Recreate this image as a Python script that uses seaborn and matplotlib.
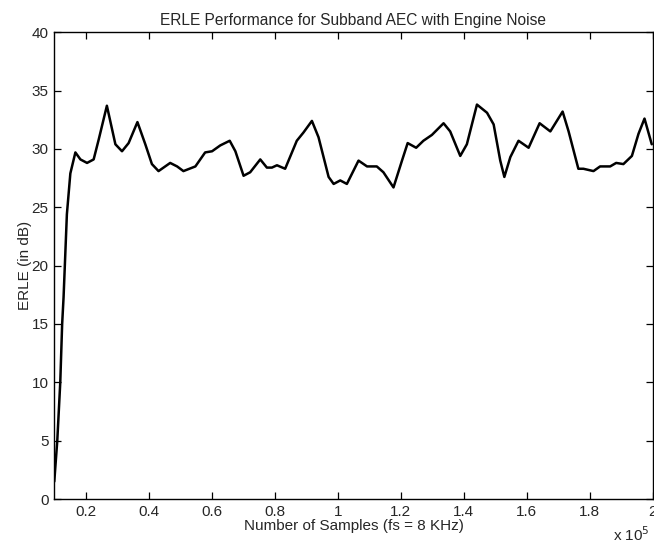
import numpy as np
import pandas as pd
import seaborn as sns
import matplotlib
matplotlib.use("Agg")
import matplotlib.pyplot as plt
from matplotlib.ticker import FuncFormatter

# ERLE curve (x in units of 1e5 samples, y in dB)
samples_e5 = [0.100, 0.1095, 0.119, 0.125, 0.1295, 0.140, 0.151, 0.167, 0.183, 0.204,
              0.225, 0.241, 0.267, 0.294, 0.315, 0.336, 0.364, 0.389, 0.410, 0.431,
              0.468, 0.490, 0.510, 0.548, 0.579, 0.601, 0.627, 0.657, 0.675, 0.701,
              0.722, 0.754, 0.775, 0.791, 0.807, 0.833, 0.870, 0.891, 0.918, 0.939,
              0.971, 0.987, 1.008, 1.029, 1.066, 1.093, 1.124, 1.145, 1.177, 1.204,
              1.222, 1.249, 1.272, 1.299, 1.336, 1.357, 1.389, 1.410, 1.442, 1.474,
              1.495, 1.516, 1.529, 1.548, 1.574, 1.606, 1.641, 1.675, 1.714, 1.733,
              1.764, 1.780, 1.812, 1.833, 1.865, 1.884, 1.907, 1.934, 1.955, 1.974,
              1.997]
erle_db = [1.5, 5.0, 10.0, 15.0, 17.3, 24.4, 27.9, 29.7, 29.1, 28.8,
           29.1, 30.8, 33.7, 30.4, 29.8, 30.5, 32.3, 30.4, 28.7, 28.1,
           28.8, 28.5, 28.1, 28.5, 29.7, 29.8, 30.3, 30.7, 29.8, 27.7,
           28.0, 29.1, 28.4, 28.4, 28.6, 28.3, 30.7, 31.4, 32.4, 31.0,
           27.6, 27.0, 27.3, 27.0, 29.0, 28.5, 28.5, 28.0, 26.7, 29.0,
           30.5, 30.1, 30.7, 31.2, 32.2, 31.5, 29.4, 30.4, 33.8, 33.1,
           32.1, 29.0, 27.6, 29.3, 30.7, 30.1, 32.2, 31.5, 33.2, 31.5,
           28.3, 28.3, 28.1, 28.5, 28.5, 28.8, 28.7, 29.4, 31.3, 32.6,
           30.4]
xticks_e5 = [0.2, 0.4, 0.6, 0.8, 1.0, 1.2, 1.4, 1.6, 1.8, 2.0]
yticks = [0, 5, 10, 15, 20, 25, 30, 35, 40]

df = pd.DataFrame({"samples": np.array(samples_e5) * 1e5, "erle": erle_db})

sns.set_style("ticks")
plt.rcParams["font.family"] = ["Liberation Sans", "DejaVu Sans"]
plt.rcParams["xtick.direction"] = "in"
plt.rcParams["ytick.direction"] = "in"

fig = plt.figure(figsize=(6.54, 5.46), dpi=100)
ax = fig.add_axes([0.083, 0.086, 0.915, 0.855])

sns.lineplot(data=df, x="samples", y="erle", color="black", linewidth=1.8,
             solid_joinstyle="round", ax=ax)

ax.set_xlim(1e4, 2e5)
ax.set_ylim(0, 40)
ax.set_xticks([t * 1e5 for t in xticks_e5])
ax.set_yticks(yticks)
ax.xaxis.set_major_formatter(FuncFormatter(lambda v, p: "%g" % round(v / 1e5, 2)))
ax.tick_params(axis="both", which="both", top=True, right=True, length=5,
               width=0.9, color="black", labelsize=11, pad=4)

for s in ax.spines.values():
    s.set_visible(True)
    s.set_color("black")
    s.set_linewidth(1.0)

ax.set_title("ERLE Performance for Subband AEC with Engine Noise", fontsize=11.2, pad=5)
ax.set_xlabel("Number of Samples (fs = 8 KHz)", fontsize=11, labelpad=0)
ax.set_ylabel("ERLE (in dB)", fontsize=11, labelpad=0)
fig.text(0.938, 0.004, r"x 10$^5$", fontsize=11, ha="left", va="bottom")

fig.savefig("out.png", dpi=100)
